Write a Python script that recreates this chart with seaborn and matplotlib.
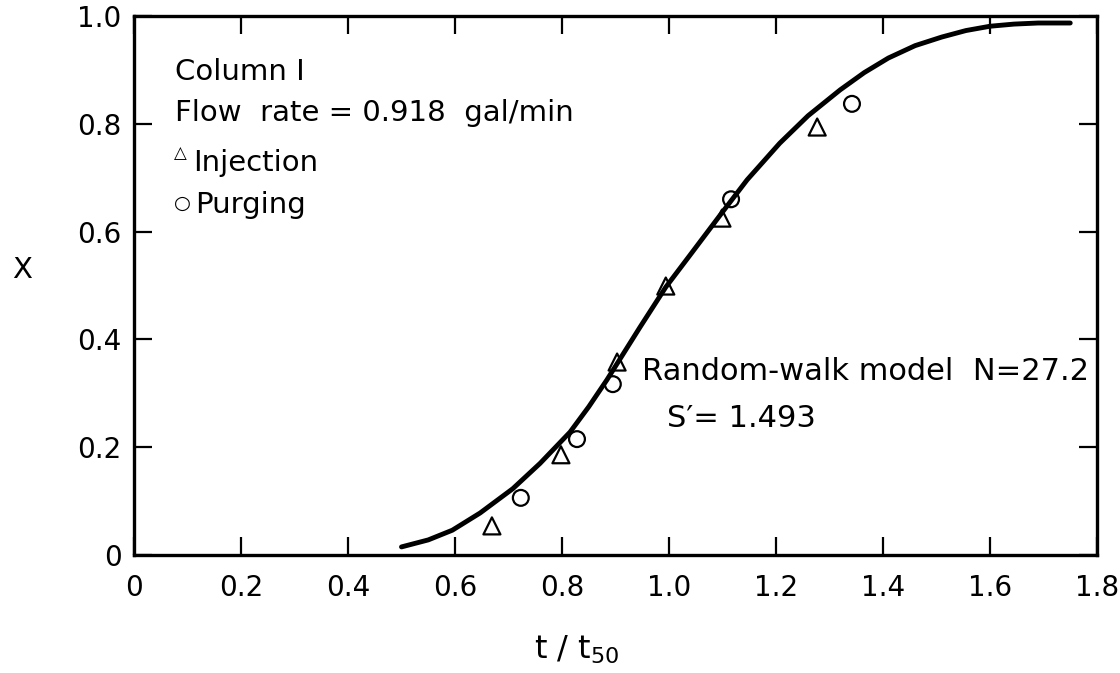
import numpy as np
import pandas as pd
import matplotlib
matplotlib.use("Agg")
import matplotlib.pyplot as plt
import seaborn as sns

# model curve (random-walk model)
curve_t = [0.50, 0.55, 0.595, 0.647, 0.708, 0.759, 0.815, 0.85, 0.884, 0.946, 0.994,
           1.039, 1.099, 1.146, 1.207, 1.26, 1.32, 1.365, 1.41, 1.46, 1.51, 1.555,
           1.60, 1.645, 1.69, 1.75]
curve_x = [0.015, 0.028, 0.046, 0.078, 0.123, 0.170, 0.228, 0.275, 0.325, 0.423, 0.497,
           0.556, 0.635, 0.696, 0.764, 0.815, 0.863, 0.895, 0.922, 0.945, 0.961, 0.973,
           0.981, 0.985, 0.987, 0.987]

# measured points
inj_t = [0.669, 0.798, 0.903, 0.994, 1.099, 1.277]
inj_x = [0.054, 0.186, 0.358, 0.499, 0.625, 0.794]
purge_t = [0.723, 0.828, 0.895, 1.116, 1.342]
purge_x = [0.106, 0.215, 0.317, 0.660, 0.837]

x_ticks = [0, 0.2, 0.4, 0.6, 0.8, 1.0, 1.2, 1.4, 1.6, 1.8]
x_ticklabels = ["0", "0.2", "0.4", "0.6", "0.8", "1.0", "1.2", "1.4", "1.6", "1.8"]
y_ticks = [0, 0.2, 0.4, 0.6, 0.8, 1.0]
y_ticklabels = ["0", "0.2", "0.4", "0.6", "0.8", "1.0"]

sns.set_style("ticks", {"axes.edgecolor": "black", "xtick.color": "black",
                        "ytick.color": "black", "text.color": "black",
                        "axes.labelcolor": "black"})
plt.rcParams["font.family"] = ["DejaVu Sans"]
plt.rcParams["mathtext.fontset"] = "dejavusans"

fig = plt.figure(figsize=(11.2, 6.73), dpi=100)
ax = fig.add_axes([134 / 1120, 118 / 673, 963 / 1120, 539 / 673])

curve = pd.DataFrame({"t": curve_t, "x": curve_x})
sns.lineplot(data=curve, x="t", y="x", ax=ax, color="black", linewidth=3.5, sort=False)
sns.scatterplot(x=inj_t, y=inj_x, ax=ax, marker="^", s=150, facecolor="none",
                edgecolor="black", linewidth=1.6, zorder=3)
sns.scatterplot(x=purge_t, y=purge_x, ax=ax, marker="o", s=130, facecolor="none",
                edgecolor="black", linewidth=1.6, zorder=3)

ax.set_xlim(0, 1.8)
ax.set_ylim(0, 1.0)
ax.set_xticks(x_ticks)
ax.set_xticklabels(x_ticklabels)
ax.set_yticks(y_ticks)
ax.set_yticklabels(y_ticklabels)
ax.tick_params(direction="in", length=13, width=1.6, labelsize=20,
               top=True, right=True)
ax.tick_params(axis="x", pad=14)
ax.tick_params(axis="y", pad=9)
for s in ax.spines.values():
    s.set_linewidth(2.4)
    s.set_visible(True)

ax.set_xlabel("t / t$_{\\mathregular{50}}$", fontsize=23, va="top")
ax.xaxis.set_label_coords(0.46, -0.145)
ax.set_ylabel("X", fontsize=21, rotation=0, va="center", ha="center")
ax.yaxis.set_label_coords(-0.116, 0.529)

fs = 21
ax.text(0.043, 0.896, "Column I", transform=ax.transAxes, fontsize=fs, va="center")
ax.text(0.043, 0.82, "Flow  rate = 0.918  gal/min", transform=ax.transAxes,
        fontsize=fs, va="center")
ax.text(0.041, 0.745, "\u25B3", transform=ax.transAxes, fontsize=12, va="center")
ax.text(0.061, 0.727, "Injection", transform=ax.transAxes, fontsize=fs, va="center")
ax.text(0.042, 0.652, "\u25CB", transform=ax.transAxes, fontsize=14, va="center")
ax.text(0.063, 0.649, "Purging", transform=ax.transAxes, fontsize=fs, va="center")
ax.text(0.95, 0.34, "Random-walk model  N=27.2", fontsize=22, va="center")
ax.text(0.996, 0.254, "S\u2032= 1.493", fontsize=22, va="center")

fig.savefig("out.png", dpi=100)
